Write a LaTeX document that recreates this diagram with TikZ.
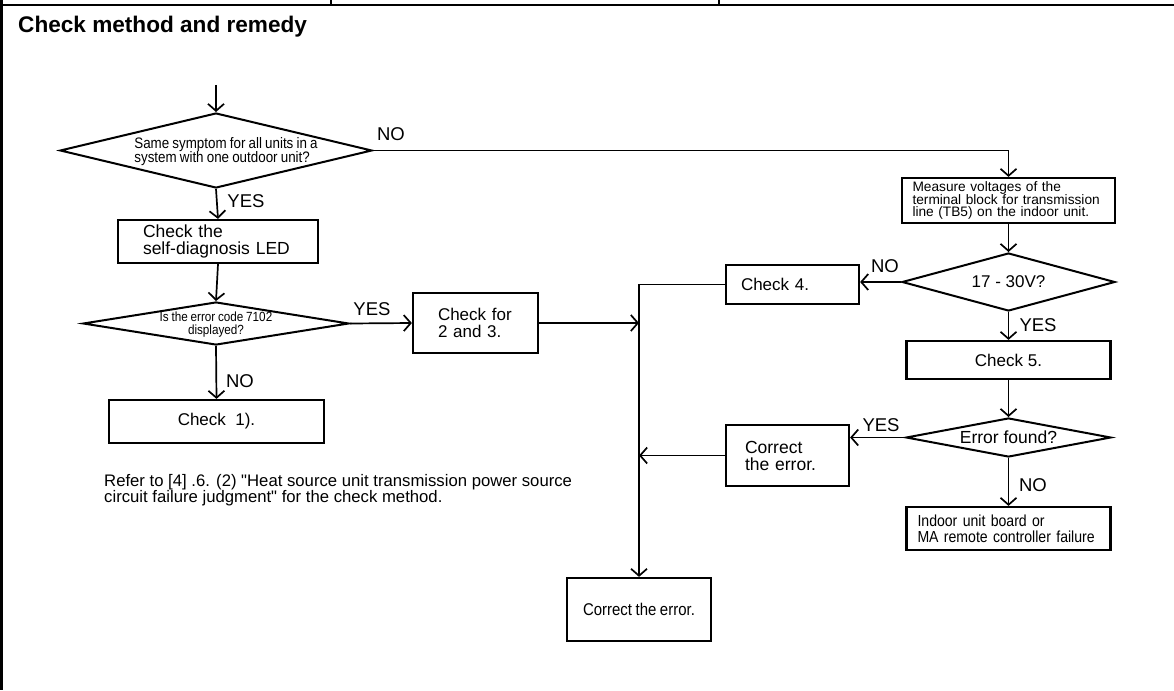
\documentclass[tikz,border=0pt]{standalone}
\usepackage{fontspec}
\setmainfont{Liberation Sans}
\newfontfamily\narrowsf[FakeStretch=0.88,WordSpace=0.85]{Liberation Sans}
\usetikzlibrary{shapes.geometric,arrows.meta}

\newcommand\fsz[2]{\fontsize{#1}{#2}\selectfont}
% zero-size text block, so that a diamond keeps its given size
\newcommand\ztext[2]{\makebox[0pt]{\smash{\raisebox{-0.38em}{\begin{tabular}{@{}#1@{}}#2\end{tabular}}}}}

\tikzset{
  flow/.style={line width=1.7pt, -{Straight Barb[length=7pt,width=16pt,line width=1.7pt]}},
  stepbox/.style={draw, line width=2.2pt, inner ysep=0pt},
  decision/.style={draw, shape=diamond, line width=2pt, inner sep=0pt},
  answer/.style={font=\fsz{18.5}{20}, inner sep=0pt},
  frameline/.style={line width=2.5pt},
}

\begin{document}
\begin{tikzpicture}[x=1pt,y=-1pt]
\useasboundingbox (0,0) rectangle (1174,690);

% table frame
\draw[frameline] (0,5) -- (1174,5);
\draw[frameline] (1.25,0) -- (1.25,690);
\draw[line width=1.5pt] (331,0) -- (331,5);
\draw[line width=1.5pt] (719,0) -- (719,5);

\node[anchor=base west, inner sep=0pt, font=\bfseries\fsz{22.6}{24}] (title) at (18,33) {Check method and remedy};

% left column
\coordinate (start) at (216,85);
\node[decision, minimum width=312pt, minimum height=75pt] (same) at (216,150.5)
  {\hspace*{20pt}\ztext{l}{\narrowsf\fsz{15.2}{13.8}Same symptom for all units in a\\ \narrowsf\fsz{15.2}{13.8}system with one outdoor unit?}};
\node[stepbox, text width=150pt, inner xsep=25pt, minimum height=43pt, align=left, font=\fsz{17.5}{17}] (selfdiag) at (218,241.5)
  {Check the\\self-diagnosis LED};
\node[decision, minimum width=266pt, minimum height=43pt] (code) at (216,323.5)
  {\ztext{c}{\narrowsf\fsz{13.3}{13.5}Is the error code 7102\\ \narrowsf\fsz{13.3}{13.5}displayed?}};
\node[stepbox, minimum width=215pt, minimum height=43pt, inner xsep=0pt, font=\fsz{17}{17}] (chk1) at (216.5,421.5)
  {Check\ \ 1).};
\node[stepbox, text width=75pt, inner xsep=25pt, minimum height=60pt, align=left, font=\fsz{17}{17}] (chk23) at (475.5,323)
  {Check for\\2 and 3.};

\node[anchor=north west, inner sep=0pt, align=left, font=\fsz{16.7}{14.5}] (note) at (104,474)
  {Refer to [4] .6. (2) \textquotedbl Heat source unit transmission power source\\circuit failure judgment\textquotedbl\ for the check method.};

% right column
\node[stepbox, text width=192pt, inner xsep=10.5pt, minimum height=45pt, align=left, font={\fsz{13.7}{12}\hyphenpenalty=10000}] (measure) at (1008.5,200.5)
  {Measure voltages of the\\terminal block for transmission\\line (TB5) on the indoor unit.};
\node[decision, minimum width=213pt, minimum height=58pt] (volt) at (1008.5,282)
  {\ztext{c}{\fsz{17}{18}17 - 30V?}};
\node[stepbox, text width=103pt, inner xsep=15pt, minimum height=39pt, align=left, font=\fsz{17}{17}] (chk4) at (792.5,284.5)
  {Check 4.};
\node[stepbox, minimum width=204pt, minimum height=38pt, inner xsep=0pt, font=\fsz{17}{17}] (chk5) at (1008.5,360)
  {Check 5.};
\node[decision, minimum width=205pt, minimum height=39pt] (found) at (1008.5,437.5)
  {\ztext{c}{\fsz{17.5}{18}Error found?}};
\node[stepbox, text width=85pt, inner xsep=19pt, minimum height=61pt, align=left, font=\fsz{17.5}{17}] (fix1) at (787.5,455.5)
  {Correct\\the error.};
\node[stepbox, text width=182pt, inner xsep=11pt, minimum height=43pt, align=left, font=\narrowsf\fsz{16}{16}] (board) at (1008.5,528.5)
  {Indoor unit board or\\MA remote controller failure};
\node[stepbox, minimum width=144pt, minimum height=63pt, inner xsep=0pt, font=\narrowsf\fsz{17}{17}] (fix2) at (639,609.5)
  {Correct the error.};

% connectors
\draw[flow] (start) -- (same.north);
\draw[flow] (same.east) -- (same.east -| measure.north) -- (measure.north);
\draw[flow] (same.south) -- (selfdiag.north);
\draw[flow] (selfdiag.south) -- (code.north);
\draw[flow] (code.east) -- (chk23.west);
\draw[flow] (code.south) -- (chk1.north);
\draw[flow] (chk23.east) -- (chk23.east -| fix2.north);
\draw[flow] (measure.south) -- (volt.north);
\draw[flow] (volt.west) -- (volt.west -| chk4.east);
\draw[flow] (volt.south) -- (chk5.north);
\draw[flow] (chk5.south) -- (found.north);
\draw[flow] (found.west) -- (found.west -| fix1.east);
\draw[flow] (found.south) -- (board.north);
\draw[flow] (fix1.west) -- (fix1.west -| fix2.north);
\draw[flow] (chk4.west) -- (chk4.west -| fix2.north) -- (fix2.north);

% branch labels
\node[answer] (no1) at (391,134) {NO};
\node[answer] (yes1) at (246,201) {YES};
\node[answer] (yes2) at (372,309) {YES};
\node[answer] (no2) at (240,381) {NO};
\node[answer] (no3) at (885,266) {NO};
\node[answer] (yes3) at (1038,325) {YES};
\node[answer] (yes4) at (881,425) {YES};
\node[answer] (no4) at (1033,485) {NO};
\end{tikzpicture}
\end{document}
